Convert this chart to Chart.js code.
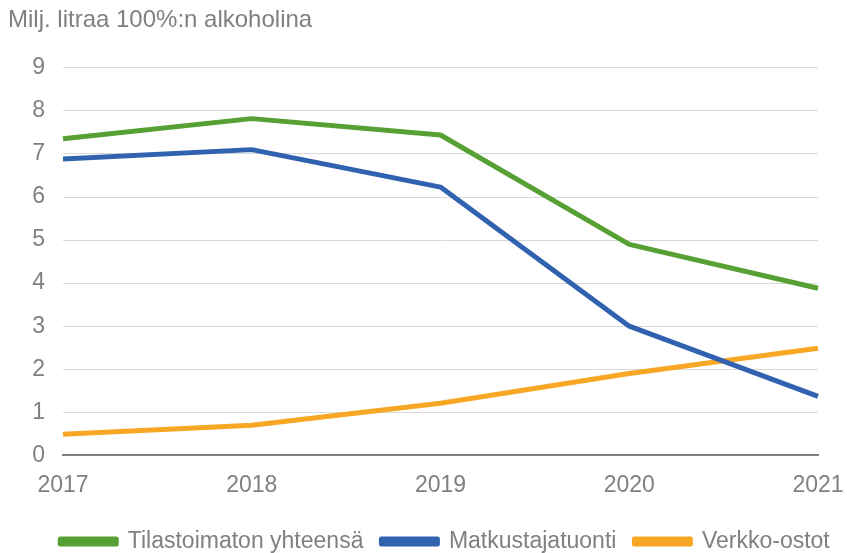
<!DOCTYPE html>
<html>
<head>
<meta charset="utf-8">
<script src="https://cdn.jsdelivr.net/npm/chart.js@4/dist/chart.umd.min.js"></script>
<style>
  html, body { margin: 0; padding: 0; background: #fff; }
  #wrap { width: 847px; height: 553px; }
</style>
</head>
<body>
<div id="wrap"><canvas id="chart"></canvas></div>
<script>
// Data
const YEARS = ['2017', '2018', '2019', '2020', '2021'];
const SERIES_NAMES = ['Tilastoimaton yhteensä', 'Matkustajatuonti', 'Verkko-ostot'];
const TOTAL = [7.35, 7.82, 7.44, 4.9, 3.88];
const TRAVEL = [6.88, 7.1, 6.23, 3.0, 1.37];
const ONLINE = [0.49, 0.7, 1.21, 1.9, 2.49];
const COLORS = ['#57A134', '#3062B0', '#F8A725'];
const TITLE = 'Milj. litraa 100%:n alkoholina';

const FONT = "'Liberation Sans', Arial, sans-serif";
const GREY = '#808080';

// nudge the legend right and a bit down, like the original sheet
const legendShift = {
  id: 'legendShift',
  afterLayout(chart) {
    const lg = chart.legend;
    lg.left += 32;
    lg.right += 32;
    lg.top += 5;
    lg.bottom += 5;
  }
};

new Chart(document.getElementById('chart'), {
  type: 'line',
  data: {
    labels: YEARS,
    datasets: [TOTAL, TRAVEL, ONLINE].map((values, i) => ({
      label: SERIES_NAMES[i],
      data: values,
      borderColor: COLORS[i],
      backgroundColor: COLORS[i],
      borderWidth: 5,
      pointRadius: 0,
      tension: 0,
      borderJoinStyle: 'round'
    }))
  },
  plugins: [legendShift],
  options: {
    responsive: true,
    maintainAspectRatio: false,
    animation: false,
    layout: { padding: { left: 8, right: 29, top: 2, bottom: -5 } },
    plugins: {
      title: {
        display: true,
        text: TITLE,
        align: 'start',
        color: GREY,
        font: { family: FONT, size: 24, weight: 'normal' },
        padding: { top: 4, bottom: 33 }
      },
      legend: {
        position: 'bottom',
        labels: {
          color: GREY,
          font: { family: FONT, size: 23 },
          boxWidth: 56,
          boxHeight: 5,
          padding: 18
        }
      },
      tooltip: { enabled: false }
    },
    scales: {
      x: {
        offset: false,
        afterFit: (s) => { s.paddingLeft = 0; s.paddingRight = 0; },
        grid: { display: false },
        border: { display: true, color: GREY, width: 2 },
        ticks: {
          color: GREY,
          font: { family: FONT, size: 23 },
          padding: 8,
          maxRotation: 0
        }
      },
      y: {
        min: 0,
        max: 9,
        afterFit: (s) => { s.width = 55; },
        border: { display: false },
        grid: { color: '#d9d9d9', lineWidth: 1, drawTicks: false },
        ticks: {
          stepSize: 1,
          color: GREY,
          font: { family: FONT, size: 23 },
          padding: 18
        }
      }
    }
  }
});
</script>
</body>
</html>
